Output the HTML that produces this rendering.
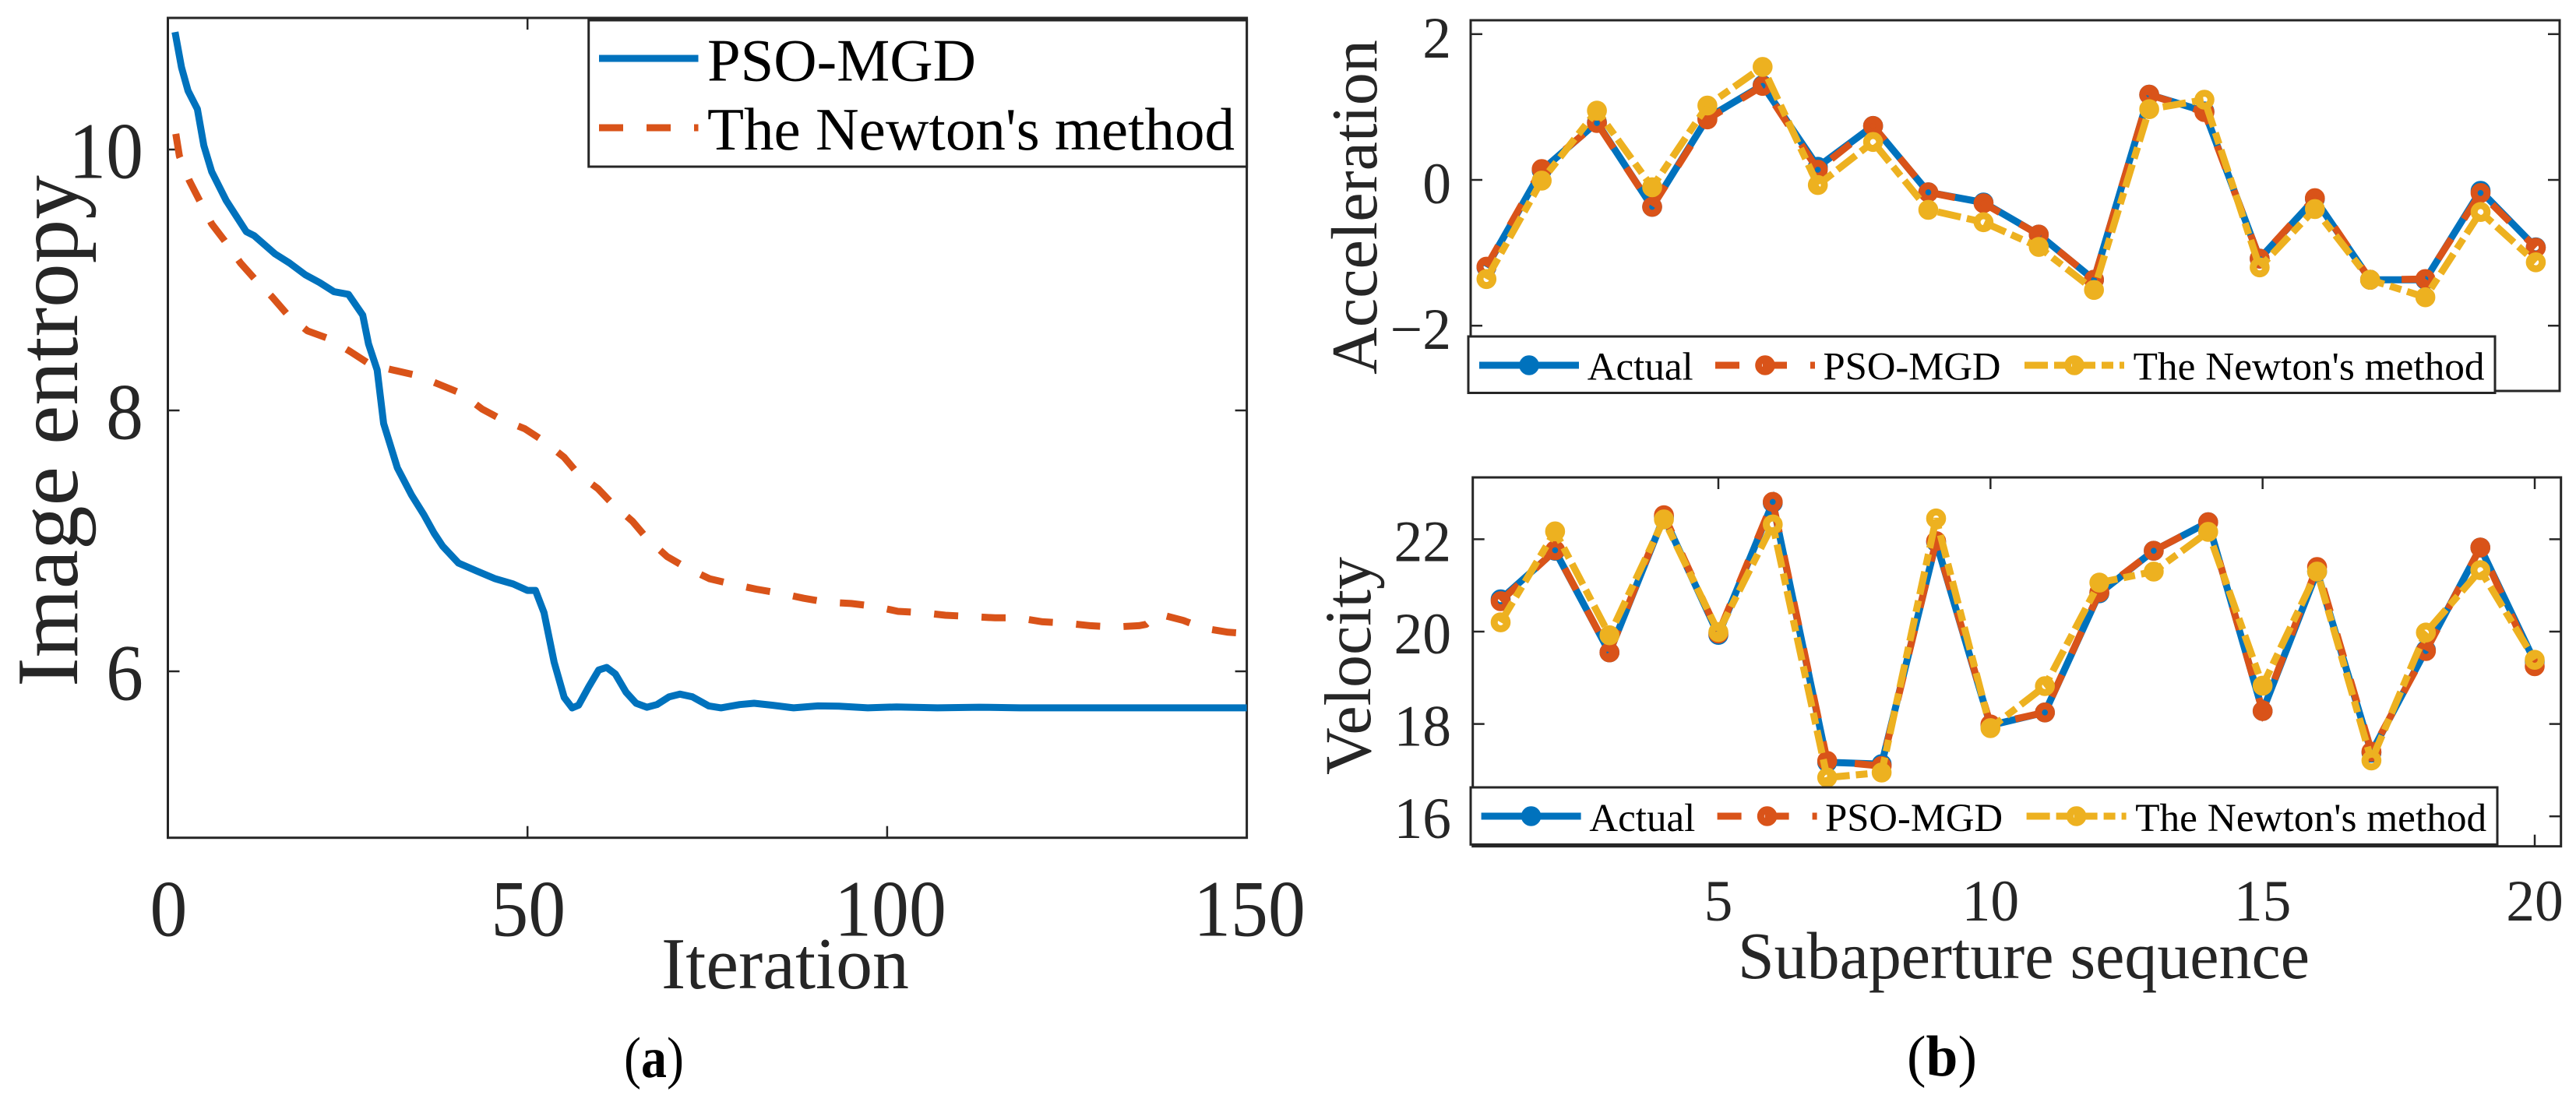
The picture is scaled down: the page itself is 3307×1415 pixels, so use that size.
<!DOCTYPE html>
<html>
<head>
<meta charset="utf-8">
<title>PSO-MGD versus Newton's method</title>
<style>
html,body{margin:0;padding:0;background:#fff;}
svg{display:block;}
text{font-family:"Liberation Serif","Times New Roman",serif;}
</style>
</head>
<body>
<svg id="figure" xmlns="http://www.w3.org/2000/svg" width="3307" height="1415" viewBox="0 0 3307 1415">
<rect x="0" y="0" width="3307" height="1415" fill="#fff"/>
</svg>
<script>
// ---------- Panel (a): image entropy vs iteration ----------
const psoIterations = [1,1.9,2.8,4.1,5,6.1,8.1,10.9,12,14.9,16.9,19.1,21.1,23.1,25.1,27.1,27.9,29.1,30,31.9,33.9,35.6,37,38.2,40.4,42.9,45.5,48,50,51.1,52.3,53.7,55.1,56.2,57.1,58.5,59.9,61,62.2,63.7,65.1,66.6,68,69.7,71.2,72.9,75.2,76.9,79.5,81.5,84,87,90.4,93.3,97.3,101.3,107,112.8,118.5,130,150];
const psoEntropy = [10.90,10.63,10.45,10.31,10.03,9.83,9.61,9.37,9.34,9.20,9.13,9.04,8.98,8.91,8.89,8.73,8.51,8.31,7.90,7.56,7.35,7.20,7.06,6.96,6.83,6.77,6.71,6.67,6.62,6.62,6.45,6.07,5.80,5.72,5.74,5.88,6.01,6.03,5.98,5.84,5.755,5.725,5.745,5.805,5.825,5.805,5.735,5.72,5.745,5.755,5.74,5.72,5.735,5.733,5.72,5.727,5.72,5.725,5.72,5.72,5.72];
const newtonIterations = [1.1,1.6,3,4.4,6.1,7.9,10.1,12.2,14.5,16.7,19.4,22.4,25.4,28.2,31.3,34.5,37.7,40.8,43.7,46.4,49.6,52.4,55.1,57.1,59.8,61.7,64.6,66.6,69.4,71.9,75.3,78.4,81.8,85,88.4,91.5,95,98.1,101.5,104.8,108.1,111.6,115,118.2,121.6,124.8,128.2,131.5,135,136,137.7,141.2,144,147.4,150];
const newtonEntropy = [10.12,9.95,9.76,9.61,9.43,9.30,9.13,9.00,8.87,8.73,8.61,8.55,8.45,8.35,8.31,8.27,8.20,8.13,8.01,7.93,7.86,7.76,7.64,7.51,7.40,7.29,7.15,7.02,6.88,6.80,6.71,6.67,6.63,6.60,6.56,6.53,6.52,6.50,6.46,6.45,6.43,6.42,6.41,6.41,6.38,6.37,6.35,6.34,6.35,6.36,6.44,6.39,6.33,6.30,6.29];
const entropyXTicks = [0,50,100,150];
const entropyYTicks = [10,8,6];

// ---------- Panel (b): subaperture sequences ----------
const subapertures = [1,2,3,4,5,6,7,8,9,10,11,12,13,14,15,16,17,18,19,20];
const accelActual = [-1.20,0.13,0.79,-0.37,0.85,1.30,0.18,0.74,-0.17,-0.31,-0.75,-1.37,1.17,0.94,-1.08,-0.26,-1.37,-1.37,-0.15,-0.925];
const accelPso = [-1.19,0.15,0.78,-0.37,0.83,1.29,0.14,0.74,-0.17,-0.32,-0.75,-1.37,1.17,0.93,-1.08,-0.25,-1.37,-1.36,-0.18,-0.93];
const accelNewton = [-1.36,-0.01,0.95,-0.10,1.02,1.55,-0.07,0.52,-0.41,-0.58,-0.92,-1.51,0.97,1.10,-1.20,-0.40,-1.37,-1.61,-0.44,-1.13];
const velActual = [20.70,21.75,19.55,22.48,19.93,22.79,17.17,17.13,21.94,17.97,18.25,20.83,21.75,22.37,18.28,21.30,17.38,19.60,21.82,19.35];
const velPso = [20.66,21.76,19.55,22.52,19.96,22.81,17.20,17.09,21.96,17.99,18.25,20.85,21.75,22.37,18.28,21.40,17.40,19.58,21.82,19.25];
const velNewton = [20.20,22.17,19.92,22.43,19.99,22.32,16.84,16.95,22.45,17.91,18.82,21.06,21.30,22.16,18.83,21.30,17.21,19.98,21.33,19.39];
const accelYTicks = [2,0,-2];
const velYTicks = [22,20,18,16];
const seqXTicks = [5,10,15,20];

const BLUE = '#0072BD', ORANGE = '#D95319', YELLOW = '#EDB120', INK = '#262626';
const svg = document.getElementById('figure');
const NS = 'http://www.w3.org/2000/svg';

function mk(tag, attrs, parent) {
  const n = document.createElementNS(NS, tag);
  for (const k in attrs) n.setAttribute(k, attrs[k]);
  (parent || svg).appendChild(n);
  return n;
}
function label(str, x, y, size, opts) {
  const o = opts || {};
  const a = {'font-size': size, fill: o.fill || INK, 'text-anchor': o.anchor || 'start'};
  if (o.rotate) a.transform = 'translate(' + x + ',' + y + ') rotate(-90)';
  else if (o.sx) a.transform = 'translate(' + x + ',' + y + ') scale(' + o.sx + ',1)';
  else { a.x = x; a.y = y; }
  if (o.len) { a.textLength = o.len; a.lengthAdjust = 'spacingAndGlyphs'; }
  const n = mk('text', a);
  n.textContent = str;
  return n;
}
function fmt(v) { return v < 0 ? '\u2212' + Math.abs(v) : String(v); }

// axis scales
const xA = i => 215.5 + 9.234 * i;
const yA = v => 192 + (10 - v) * 167.5;
const xT = i => 1908.3 + 70.9 * (i - 1);
const yT = v => 231 - v * 93.6;
const xB = i => 1926.5 + 69.87 * (i - 1);
const yB = v => 811 + (20 - v) * 59.3;

const DASH = '31 30';
const DASHDOT = '30 8 15 8';
let el;

function pointsOf(xs, ys, fx, fy) {
  return xs.map((x, k) => fx(x).toFixed(1) + ',' + fy(ys[k]).toFixed(1)).join(' ');
}
function frame(name, x0, y0, x1, y1) {
  const g = mk('rect', {x: x0, y: y0, width: x1 - x0, height: y1 - y0, fill: 'none', stroke: INK, 'stroke-width': 3});
  
  
}
function tickLine(x1, y1, x2, y2) {
  const t = mk('line', {x1: x1, y1: y1, x2: x2, y2: y2, stroke: INK, 'stroke-width': 2.5});
  
  
}

// ---------- Panel (a) ----------
frame('entropy-axes-frame', 215.5, 23, 1600.6, 1075.7);
entropyXTicks.forEach(v => {
  if (v > 0 && v < 150) { tickLine(xA(v), 1075.7, xA(v), 1060.7); tickLine(xA(v), 23, xA(v), 38); }
  el = label(String(v), v === 150 ? 1604 : v === 100 ? 1143 : xA(v) + 1, 1201.7, 103, {anchor: 'middle', sx: 0.93});
  
  
});
entropyYTicks.forEach(v => {
  tickLine(215.5, yA(v), 230.5, yA(v));
  tickLine(1600.6, yA(v), 1585.6, yA(v));
  el = label(String(v), 184, yA(v) + 36.6, 103, {anchor: 'end', sx: 0.93});
  
  
});
el = mk('polyline', {points: pointsOf(psoIterations, psoEntropy, xA, yA), fill: 'none', stroke: BLUE, 'stroke-width': 9, 'stroke-linejoin': 'round'});


el = mk('polyline', {points: pointsOf(newtonIterations, newtonEntropy, xA, yA), fill: 'none', stroke: ORANGE, 'stroke-width': 9, 'stroke-dasharray': DASH, 'stroke-linejoin': 'round'});



el = label('Image entropy', 99, 882, 112, {rotate: true, len: 657});


el = label('Iteration', 849, 1269, 94, {len: 318});



el = mk('rect', {x: 755.7, y: 26, width: 844.9, height: 188, fill: '#fff', stroke: INK, 'stroke-width': 3});


el = mk('line', {x1: 769, y1: 75, x2: 896.5, y2: 75, stroke: BLUE, 'stroke-width': 9});


el = mk('line', {x1: 769, y1: 164, x2: 896.5, y2: 164, stroke: ORANGE, 'stroke-width': 9, 'stroke-dasharray': DASH});


el = label('PSO-MGD', 908, 103.6, 77, {fill: '#000', len: 345});


el = label("The Newton's method", 908, 192, 77, {fill: '#000', len: 677});



// ---------- Panel (b) helpers ----------
function series(name, xs, ys, fx, fy, color, dash) {
  const attrs = {points: pointsOf(xs, ys, fx, fy), fill: 'none', stroke: color, 'stroke-width': 9, 'stroke-linejoin': 'miter'};
  if (dash) attrs['stroke-dasharray'] = dash;
  const line = mk('polyline', attrs);
  
  
  xs.forEach((x, k) => {
    const c = mk('circle', {cx: fx(x).toFixed(1), cy: fy(ys[k]).toFixed(1), r: 8.3, fill: 'none', stroke: color, 'stroke-width': 9});
    
    
  });
}
function swatch(name, x1, x2, y, color, dash) {
  const attrs = {x1: x1, y1: y, x2: x2, y2: y, stroke: color, 'stroke-width': 9};
  if (dash) attrs['stroke-dasharray'] = dash;
  const line = mk('line', attrs);
  
  
  const c = mk('circle', {cx: (x1 + x2) / 2, cy: y, r: 8.3, fill: 'none', stroke: color, 'stroke-width': 9});
  
  
}
function legend(prefix, x0, y0, x1, y1, ly, tb, dx) {
  const box = mk('rect', {x: x0, y: y0, width: x1 - x0, height: y1 - y0, fill: '#fff', stroke: INK, 'stroke-width': 3});
  
  
  swatch(prefix + '-legend-actual', 1899 + dx, 2027 + dx, ly, BLUE, null);
  swatch(prefix + '-legend-pso', 2202 + dx, 2330 + dx, ly, ORANGE, DASH);
  swatch(prefix + '-legend-newton', 2599 + dx, 2727 + dx, ly, YELLOW, DASHDOT);
  let t = label('Actual', 2037.7 + dx, tb, 51, {fill: '#000', len: 136});
  
  
  t = label('PSO-MGD', 2340.5 + dx, tb, 51, {fill: '#000', len: 228});
  
  
  t = label("The Newton's method", 2738.6 + dx, tb, 51, {fill: '#000', len: 451});
  
  
}

// ---------- Panel (b) acceleration ----------
frame('acceleration-axes-frame', 1888, 26, 3286, 502);
accelYTicks.forEach(v => {
  tickLine(1888, yT(v), 1903, yT(v));
  tickLine(3286, yT(v), 3271, yT(v));
  el = label(fmt(v), 1863, yT(v) + 30, 75, {anchor: 'end', sx: 0.98});
  
  
});
series('acceleration-actual', subapertures, accelActual, xT, yT, BLUE, null);
series('acceleration-pso-mgd', subapertures, accelPso, xT, yT, ORANGE, DASH);
series('acceleration-newton', subapertures, accelNewton, xT, yT, YELLOW, DASHDOT);
el = label('Acceleration', 1767, 481, 84, {rotate: true, len: 430});


legend('acceleration', 1885, 432, 3203, 504.5, 469, 487.5, 0);

// ---------- Panel (b) velocity ----------
frame('velocity-axes-frame', 1890.7, 613, 3287.7, 1086.7);
velYTicks.forEach(v => {
  tickLine(1890.7, yB(v), 1905.7, yB(v));
  tickLine(3287.7, yB(v), 3272.7, yB(v));
  el = label(String(v), 1863, yB(v) + 28, 75, {anchor: 'end', sx: 0.98});
  
  
});
seqXTicks.forEach(v => {
  tickLine(xB(v), 613, xB(v), 628);
  tickLine(xB(v), 1086.7, xB(v), 1071.7);
  el = label(String(v), xB(v), 1182, 75, {anchor: 'middle', sx: 0.98});
  
  
});
series('velocity-actual', subapertures, velActual, xB, yB, BLUE, null);
series('velocity-pso-mgd', subapertures, velPso, xB, yB, ORANGE, DASH);
series('velocity-newton', subapertures, velNewton, xB, yB, YELLOW, DASHDOT);
el = label('Velocity', 1759, 995, 85, {rotate: true, len: 280});


el = label('Subaperture sequence', 2231, 1256, 86, {len: 734});


legend('velocity', 1888, 1011, 3206, 1084.4, 1048, 1067, 2.6);

// ---------- Captions ----------
el = mk('text', {x: 801, y: 1383, 'font-size': 74, fill: '#000', textLength: 77, lengthAdjust: 'spacingAndGlyphs'});
el.innerHTML = '(<tspan font-weight="bold">a</tspan>)';


el = mk('text', {x: 2448, y: 1381, 'font-size': 74, fill: '#000', textLength: 90, lengthAdjust: 'spacingAndGlyphs'});
el.innerHTML = '(<tspan font-weight="bold">b</tspan>)';


</script>
</body>
</html>
